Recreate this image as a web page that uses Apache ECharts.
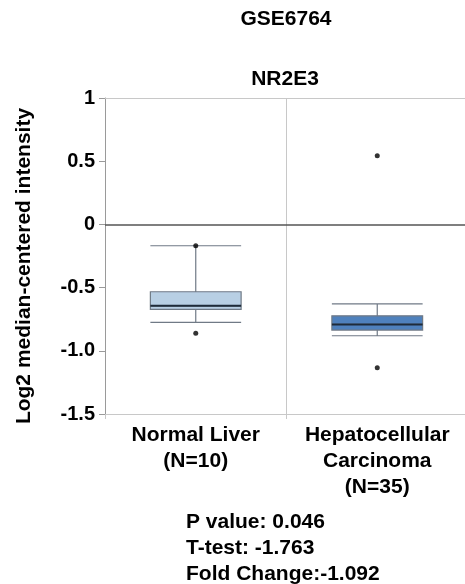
<!DOCTYPE html>
<html>
<head>
<meta charset="utf-8">
<script src="https://cdn.jsdelivr.net/npm/echarts@6/dist/echarts.min.js"></script>
<style>html,body{margin:0;padding:0;background:#fff}#c{width:465px;height:584px}</style>
</head>
<body>
<div id="c"></div>
<script>
// ---- data ----
const categories = ['Normal Liver\n(N=10)', 'Hepatocellular\nCarcinoma\n(N=35)'];
// [min, Q1, median, Q3, max]
const normalBox = [-0.775, -0.673, -0.644, -0.533, -0.169];
const hccBox = [-0.881, -0.836, -0.791, -0.723, -0.628];
const normalOutliers = [-0.169, -0.862];
const hccOutliers = [0.543, -1.134];
const yTicks = [-1.5, -1.0, -0.5, 0, 0.5, 1];
const titleText = 'GSE6764';
const geneText = 'NR2E3';
const yName = 'Log2 median-centered intensity';
const statLines = ['P value: 0.046', 'T-test: -1.763', 'Fold Change:-1.092'];

const FONT = "'Liberation Sans', Arial, Helvetica, sans-serif";
const boxData = [
  { value: normalBox, itemStyle: { color: '#b8cfe4' } },
  { value: hccBox, itemStyle: { color: '#4f81bd' } }
];
const outlierData = [];
normalOutliers.forEach(v => outlierData.push([0, v]));
hccOutliers.forEach(v => outlierData.push([1, v]));
const medianData = [[0, normalBox[2]], [1, hccBox[2]]];

const chart = echarts.init(document.getElementById('c'), null, { renderer: 'canvas' });
chart.setOption({
  animation: false,
  backgroundColor: '#fff',
  grid: { left: 105, top: 98, width: 363, height: 316, outerBoundsMode: 'none', containLabel: false, show: false },
  xAxis: {
    type: 'category',
    data: categories,
    axisLine: { show: true, onZero: false, lineStyle: { color: '#c8c8c8', width: 1 } },
    axisTick: { show: true, length: 5, lineStyle: { color: '#c8c8c8' } },
    splitLine: { show: true, showMinLine: false, showMaxLine: false, lineStyle: { color: '#c8c8c8', width: 1 } },
    axisLabel: { fontFamily: FONT, fontSize: 21, fontWeight: 'bold', color: '#000', lineHeight: 26, margin: 8, interval: 0 }
  },
  yAxis: {
    type: 'value',
    min: -1.5, max: 1, interval: 0.5,
    axisLine: { show: true, lineStyle: { color: '#9a9a9a', width: 1 } },
    axisTick: { show: true, length: 6, lineStyle: { color: '#9a9a9a' } },
    splitLine: { show: false },
    axisLabel: {
      fontFamily: FONT, fontSize: 20, fontWeight: 'bold', color: '#000', margin: 10,
      formatter: v => (v === 0 ? '0' : v === 1 ? '1' : v.toFixed(1))
    }
  },
  series: [
    {
      type: 'boxplot',
      data: boxData,
      boxWidth: ['50%', '50%'],
      itemStyle: { borderColor: '#707a86', borderWidth: 1.2 },
      silent: true,
      z: 3
    },
    {
      type: 'custom',
      data: medianData,
      z: 4,
      silent: true,
      renderItem: function (params, api) {
        const p = api.coord([api.value(0), api.value(1)]);
        const bw = api.size([1, 0])[0];
        return {
          type: 'line',
          shape: { x1: p[0] - bw * 0.25, y1: p[1], x2: p[0] + bw * 0.25, y2: p[1] },
          style: { stroke: '#1e2b3a', lineWidth: 2 }
        };
      }
    },
    {
      type: 'scatter',
      data: outlierData,
      symbolSize: 5,
      itemStyle: { color: '#000' },
      silent: true,
      z: 5,
      markLine: {
        silent: true,
        symbol: ['none', 'none'],
        label: { show: false },
        data: [
          { yAxis: 0, lineStyle: { color: '#555', width: 1.5, type: 'solid' } },
          { yAxis: 1, lineStyle: { color: '#c8c8c8', width: 1, type: 'solid' } }
        ]
      }
    }
  ],
  graphic: [
    { type: 'text', x: 286, y: 19, style: { text: titleText, font: 'bold 21px ' + FONT, fill: '#000', textAlign: 'center', textVerticalAlign: 'middle' } },
    { type: 'text', x: 285, y: 79, style: { text: geneText, font: 'bold 21px ' + FONT, fill: '#000', textAlign: 'center', textVerticalAlign: 'middle' } },
    { type: 'text', x: 24, y: 266, rotation: Math.PI / 2, style: { text: yName, font: 'bold 21px ' + FONT, fill: '#000', textAlign: 'center', textVerticalAlign: 'middle' } },
    { type: 'text', x: 186, y: 522, style: { text: statLines[0], font: 'bold 21px ' + FONT, fill: '#000', textAlign: 'left', textVerticalAlign: 'middle' } },
    { type: 'text', x: 186, y: 548, style: { text: statLines[1], font: 'bold 21px ' + FONT, fill: '#000', textAlign: 'left', textVerticalAlign: 'middle' } },
    { type: 'text', x: 186, y: 574, style: { text: statLines[2], font: 'bold 21px ' + FONT, fill: '#000', textAlign: 'left', textVerticalAlign: 'middle' } }
  ]
});
</script>
</body>
</html>
